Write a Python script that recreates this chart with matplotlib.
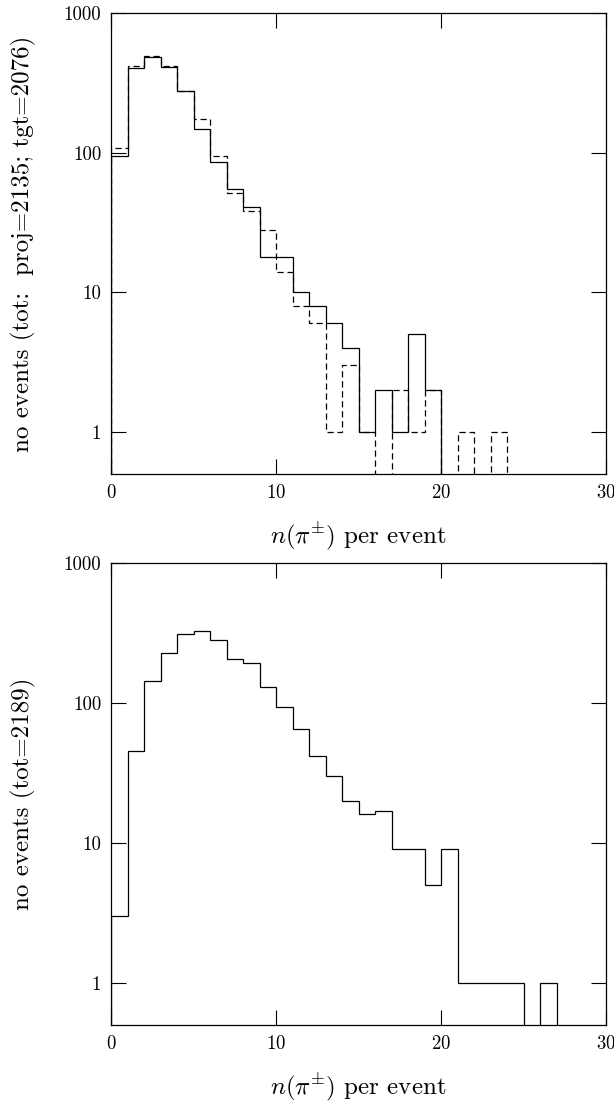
import numpy as np
import matplotlib
matplotlib.use("Agg")
import matplotlib.pyplot as plt

plt.rcParams['font.family'] = 'serif'
plt.rcParams['font.serif'] = ['cmr10', 'DejaVu Serif']
plt.rcParams['mathtext.fontset'] = 'cm'
plt.rcParams['axes.formatter.use_mathtext'] = True

# bin edges 0..30, one count per unit bin
edges = np.arange(0, 31)

# top panel: target (solid) and projectile (dashed)
tgt = [95, 405, 485, 410, 276, 147, 86, 55, 41, 18, 18, 10, 8, 6, 4, 1, 2, 1, 5, 2,
       0, 0, 0, 0, 0, 0, 0, 0, 0, 0]
proj = [108, 416, 490, 416, 276, 173, 95, 51, 38, 28, 14, 8, 6, 1, 3, 1, 0, 2, 1, 2,
        0, 1, 0, 1, 0, 0, 0, 0, 0, 0]

# bottom panel: total
tot = [3, 45, 143, 227, 309, 327, 281, 207, 193, 129, 94, 65, 42, 30, 20, 16, 17, 9, 9, 5,
       9, 1, 1, 1, 1, 0, 1, 0, 0, 0]

ylab_top = 'no events (tot:  proj=2135; tgt=2076)'
ylab_bot = 'no events (tot=2189)'
xlab = r'$n(\pi^{\pm})$ per event'


def floor(v):
    v = np.asarray(v, dtype=float)
    return np.where(v > 0, v, 1e-2)


fig = plt.figure(figsize=(6.14, 11.03), dpi=100)
W, H = 614.0, 1103.0
ax1 = fig.add_axes([111 / W, 1 - 474 / H, 495 / W, 461 / H])
ax2 = fig.add_axes([111 / W, 1 - 1025 / H, 495 / W, 462 / H])

ax1.stairs(floor(tgt), edges, color='k', lw=0.9)
ax1.stairs(floor(proj), edges, color='k', lw=0.9, linestyle=(0, (5, 3)))
ax2.stairs(floor(tot), edges, color='k', lw=0.9)

for ax, lab in ((ax1, ylab_top), (ax2, ylab_bot)):
    ax.set_yscale('log')
    ax.set_xlim(0, 30)
    ax.set_ylim(0.5, 1000)
    ax.set_xticks([0, 10, 20, 30])
    ax.set_yticks([1, 10, 100, 1000])
    ax.set_yticklabels(['1', '10', '100', '1000'])
    ax.minorticks_off()
    ax.tick_params(direction='in', length=10.5, width=0.8, top=True, right=True,
                   labelsize=13.5, pad=7)
    for s in ax.spines.values():
        s.set_linewidth(0.9)
    ax.set_xlabel(xlab, fontsize=18, labelpad=13)
    ax.set_ylabel(lab, fontsize=18, labelpad=20)

fig.savefig('out.png', dpi=100)
